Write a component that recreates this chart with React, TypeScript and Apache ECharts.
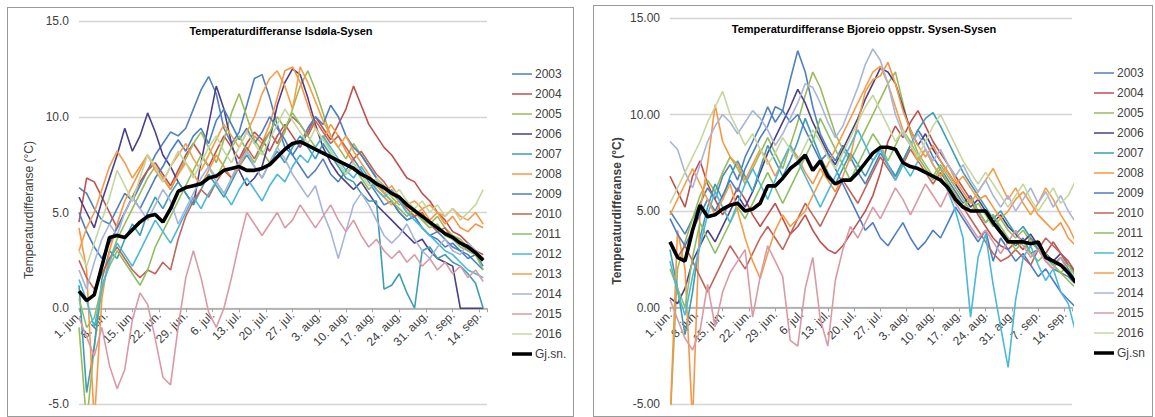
import React, { useEffect, useRef } from "react";
import * as echarts from "echarts";

// ---- axis / labels ----
const tickLabels = ["1. jun.", "8. jun.", "15. jun.", "22. jun.", "29. jun.", "6. jul.", "13. jul.", "20. jul.", "27. jul.", "3. aug.", "10. aug.", "17. aug.", "24. aug.", "31. aug.", "7. sep.", "14. sep."];
const years = ["2003", "2004", "2005", "2006", "2007", "2008", "2009", "2010", "2011", "2012", "2013", "2014", "2015", "2016"];
const yearColors = ["#4F81BD", "#C0504D", "#9BBB59", "#4E3F86", "#3D9DB3", "#F79646", "#4A7EC8", "#C0665A", "#8CC063", "#4BB8DA", "#F59D4B", "#A9B4D9", "#D99AA8", "#C4D79F"];
const dayStep = 2; // one value every 2nd day from 1. jun.
const yMin = -5;
const yMax = 15;

// ---- Isdøla-Sysen (left) ----
const isd2003 = [6.3,6.0,5.2,4.6,4.4,5.2,6.0,5.6,6.4,7.2,8.0,8.6,9.2,9.0,9.4,10.4,11.4,12.1,11.2,9.4,8.6,9.2,10.6,12.0,12.2,11.0,9.6,8.4,8.0,7.4,6.8,7.2,7.8,7.0,6.6,7.2,7.8,7.2,6.6,6.0,5.4,5.6,5.0,4.6,4.8,4.2,3.8,4.0,3.6,3.2,3.0,2.8,2.4,2.0];
const isd2004 = [4.5,6.8,6.6,5.8,5.0,4.2,5.0,5.8,6.6,7.2,7.6,7.0,6.4,7.2,8.0,8.6,8.0,7.4,8.2,9.0,8.4,7.8,8.6,9.2,8.8,8.2,9.0,9.6,9.0,8.4,9.2,10.0,9.4,8.8,9.6,10.4,11.6,10.6,9.6,9.0,8.4,8.0,7.4,6.8,6.6,6.0,5.6,5.0,4.6,4.0,3.8,3.4,3.0,2.8];
const isd2005 = [-1.0,-6.0,-2.0,1.0,2.5,3.6,4.4,5.2,6.0,6.8,7.4,6.8,6.2,7.0,7.8,8.6,9.2,8.4,7.6,8.8,10.2,11.2,10.0,8.8,8.2,7.6,8.4,9.2,10.4,11.6,12.4,11.4,10.2,9.0,8.4,7.8,8.6,8.0,7.4,6.8,6.4,5.8,5.4,5.6,5.0,4.6,4.4,4.8,4.2,3.8,3.6,3.2,3.0,2.6];
const isd2006 = [5.8,5.0,4.2,5.6,6.8,8.0,9.4,8.2,9.0,10.2,9.2,8.0,7.4,6.6,6.0,5.4,7.6,9.6,11.6,10.4,8.6,7.2,6.4,6.8,7.4,8.8,10.6,11.8,12.5,12.2,11.0,9.6,8.4,7.6,7.0,6.6,6.2,6.6,6.0,5.4,5.0,4.6,4.2,3.8,3.4,3.6,3.0,2.6,2.4,2.2,0,0,0,0];
const isd2007 = [1.2,-4.4,-2.0,1.5,3.0,2.6,3.6,4.4,3.8,5.0,5.8,5.2,6.0,6.6,6.0,5.4,6.2,7.0,6.4,5.8,6.6,7.4,8.0,7.4,6.8,7.6,8.2,7.6,8.4,9.0,8.4,7.8,8.6,8.0,7.4,6.8,6.6,6.0,5.6,5.6,1.0,1.2,1.8,0.8,0.0,3.0,3.2,2.6,2.8,2.4,2.2,1.8,1.3,0.0];
const isd2008 = [4.2,2.0,-6.0,0.5,3.0,4.4,5.6,6.4,7.2,8.0,7.4,6.8,6.2,7.0,7.6,7.0,6.4,7.2,8.0,7.4,6.8,7.4,8.2,9.0,8.6,9.6,11.0,12.4,12.6,11.8,10.6,9.4,8.8,9.6,9.0,8.2,7.6,7.0,6.8,6.2,5.8,5.4,5.6,5.0,4.8,5.2,4.6,5.0,4.4,4.8,4.2,4.0,4.4,4.2];
const isd2009 = [5.0,4.0,3.2,2.6,3.4,4.2,5.0,5.8,5.2,6.0,6.8,7.4,8.2,8.8,8.2,9.0,9.4,8.6,9.8,10.4,9.6,8.8,9.4,8.6,9.2,10.0,9.4,8.8,8.0,8.6,9.4,10.0,9.6,10.6,10.0,9.0,8.4,8.0,7.4,6.8,6.0,5.6,5.0,4.6,4.8,4.2,3.8,3.6,3.2,3.4,3.0,2.6,2.8,2.2];
const isd2010 = [2.5,1.6,1.0,1.8,2.6,3.2,2.6,2.0,1.6,2.0,1.8,2.4,2.0,3.6,4.8,5.6,6.2,5.8,6.6,7.2,6.8,7.6,8.4,7.8,8.6,9.2,8.6,9.4,10.0,9.6,9.0,9.8,9.2,8.6,9.0,8.4,7.8,8.2,7.6,7.0,6.6,6.0,5.6,5.2,4.8,5.0,4.4,4.0,4.2,3.6,3.4,3.0,2.8,2.6];
const isd2011 = [0.5,-1.0,-0.5,1.2,2.2,3.0,2.4,1.8,1.2,2.0,3.2,4.0,4.8,5.6,6.4,7.2,8.0,7.4,6.8,7.6,8.4,9.0,8.2,7.6,8.4,9.2,10.0,9.4,10.2,9.6,9.0,8.4,9.0,8.2,7.6,7.0,7.4,6.8,6.2,6.6,6.0,5.6,5.2,4.8,5.2,4.6,4.2,4.4,3.8,3.6,3.2,3.0,2.8,2.0];
const isd2012 = [1.5,0.4,-1.0,1.0,2.4,3.4,2.8,2.2,3.0,3.8,4.6,4.0,3.4,4.2,5.0,5.8,5.2,6.0,6.6,6.0,5.4,6.2,6.8,6.2,5.6,6.4,7.0,6.6,7.4,8.0,7.6,8.4,9.0,8.4,7.8,7.2,6.8,7.4,6.8,6.2,5.8,6.2,5.6,5.0,4.6,4.2,3.8,3.4,3.0,2.8,2.4,2.0,1.8,1.6];
const isd2013 = [3.0,4.2,5.0,6.2,7.4,8.2,7.6,6.8,7.4,8.0,7.2,6.6,7.4,8.0,8.6,7.8,7.2,8.0,8.8,9.6,9.0,8.4,9.2,10.0,11.2,12.0,12.4,11.6,10.4,12.6,11.8,10.8,9.8,9.0,8.4,9.0,8.2,7.6,7.0,6.4,6.0,6.4,5.8,5.4,5.6,5.2,5.4,5.0,4.8,5.2,4.8,4.6,5.0,4.4];
const isd2014 = [2.0,1.0,2.4,3.6,4.4,3.8,5.0,5.8,5.2,4.6,5.4,6.2,5.6,4.4,5.2,6.0,6.8,7.4,6.6,6.0,6.8,7.6,8.2,7.4,6.8,7.6,8.4,7.8,7.0,6.4,5.8,6.4,5.0,4.0,2.6,4.0,5.4,6.0,5.4,4.6,3.8,3.4,3.8,4.4,3.6,3.0,2.6,3.2,3.6,3.0,2.8,3.4,3.0,2.6];
const isd2015 = [-0.5,-1.5,-2.5,-1.0,-3.0,-4.2,-3.2,-0.6,0.8,0.2,-1.6,-3.6,-4.0,-1.0,1.6,3.0,1.6,-0.2,-1.0,0.0,1.6,3.4,5.0,4.4,3.8,4.4,5.0,4.2,4.6,5.4,4.8,4.2,4.8,5.4,4.6,4.0,4.6,3.8,3.2,3.6,3.0,2.6,3.0,2.4,2.8,2.2,2.6,2.0,2.4,1.8,2.2,1.6,2.0,1.4];
const isd2016 = [3.0,2.2,3.4,4.6,5.8,7.2,6.4,5.6,6.8,8.0,7.4,6.6,7.4,8.2,7.6,6.8,7.6,8.4,9.0,8.2,7.6,8.4,9.2,8.6,8.0,8.8,9.6,10.4,9.8,9.2,8.6,9.4,8.8,8.2,7.6,7.0,7.6,7.0,6.4,6.8,6.2,5.8,6.2,5.6,5.2,5.6,5.0,5.4,4.8,5.2,4.6,5.0,5.4,6.2];
const isdMean = [0.9,0.4,0.7,2.2,3.7,3.8,3.7,4.1,4.5,4.8,4.9,4.5,5.2,6.1,6.3,6.4,6.5,6.8,6.9,7.2,7.3,7.4,7.2,7.2,7.3,7.5,7.9,8.3,8.6,8.7,8.5,8.3,8.1,7.9,7.7,7.5,7.3,7.0,6.8,6.5,6.3,6.0,5.8,5.4,5.1,4.8,4.5,4.2,3.9,3.7,3.4,3.2,2.9,2.5];

// ---- Bjoreio oppstr. Sysen-Sysen (right) ----
const bjo2003 = [5.0,4.4,3.8,4.6,5.4,6.2,5.6,6.8,7.4,6.6,7.8,8.6,9.4,10.4,9.6,10.2,11.8,13.3,12.2,10.4,9.0,8.2,7.6,8.4,7.8,7.0,6.4,7.2,8.0,7.4,6.8,7.6,8.4,9.2,8.6,7.8,7.2,6.6,6.0,5.4,5.8,5.0,4.4,4.8,4.0,3.6,3.2,3.6,2.8,3.0,2.4,2.0,1.8,1.6,1.2];
const bjo2004 = [6.8,6.0,5.2,6.8,7.6,6.4,5.6,4.8,5.4,6.2,5.6,4.8,4.2,4.8,5.4,4.6,3.8,4.2,4.8,4.0,3.4,3.0,2.8,3.2,3.8,4.4,5.0,5.8,7.0,8.6,9.4,8.8,9.6,10.2,9.4,8.6,8.0,7.4,6.8,6.2,5.6,4.8,4.2,3.6,3.2,3.0,3.4,3.0,3.6,3.2,2.8,3.4,2.8,2.4,1.8];
const bjo2005 = [-6.0,2.0,3.4,4.6,5.8,6.6,6.0,7.0,7.8,7.2,6.4,7.2,8.0,8.8,8.0,7.2,8.4,9.6,11.0,12.2,11.4,10.2,9.0,8.2,7.6,8.4,9.2,10.0,10.8,11.6,12.2,10.6,9.0,8.0,7.4,6.8,7.4,6.8,6.2,5.6,5.0,5.4,4.8,4.2,4.6,4.0,3.6,4.0,3.4,3.0,2.6,2.2,1.8,1.4,1.0];
const bjo2006 = [0.5,0.2,1.0,2.4,3.2,4.0,3.4,4.2,5.0,5.8,5.2,6.0,7.0,8.0,8.8,9.6,10.4,11.3,10.6,9.6,8.8,8.0,7.4,8.2,9.0,9.8,10.8,11.6,12.4,12.2,11.6,10.4,9.2,8.4,9.0,8.2,7.6,7.0,6.4,5.8,5.2,5.6,5.0,4.4,4.8,4.2,3.8,3.4,3.8,3.2,2.8,2.4,2.8,2.2,1.8];
const bjo2007 = [3.0,1.0,-1.4,0.8,3.6,5.2,6.4,5.6,6.8,7.6,6.8,6.0,7.2,8.4,7.6,6.8,7.6,8.6,9.8,8.8,7.8,7.0,6.4,7.2,8.0,7.4,6.8,7.6,8.2,7.4,6.8,7.6,8.4,9.2,9.8,10.1,9.4,8.6,7.8,7.0,6.4,5.8,5.2,4.6,5.0,4.4,3.8,4.2,3.6,3.0,2.6,2.2,2.6,2.0,1.4];
const bjo2008 = [-6.0,4.0,2.0,-6.0,5.0,7.4,10.5,8.6,7.8,7.4,6.6,7.4,8.2,7.6,6.8,7.6,8.4,7.8,7.0,6.4,7.2,6.6,6.0,6.8,7.8,9.6,11.2,11.8,12.0,12.7,11.6,10.2,9.2,8.4,7.8,8.4,7.6,7.0,6.4,6.8,6.2,5.6,5.8,5.2,4.6,5.0,5.6,6.0,5.4,4.8,4.4,4.0,4.4,3.6,3.2];
const bjo2009 = [4.6,3.8,3.2,4.0,4.8,5.6,5.0,5.8,6.6,6.0,7.2,8.0,8.8,9.4,10.4,10.2,9.6,10.0,9.2,8.4,7.6,8.0,7.2,6.4,5.6,4.8,4.0,4.4,3.6,3.2,3.8,4.4,3.6,3.0,3.4,4.0,3.6,4.4,5.2,4.6,4.0,3.4,4.0,2.4,3.6,3.0,2.4,2.8,2.2,1.6,2.0,1.4,0.8,0.4,0.0];
const bjo2010 = [3.4,2.6,3.2,2.4,1.6,0.8,1.6,2.4,3.2,2.6,2.0,2.8,3.6,4.2,3.6,3.0,3.8,4.6,5.4,4.8,4.2,5.0,5.8,6.6,6.0,5.4,6.2,7.0,7.8,7.2,6.6,7.4,8.2,7.6,7.0,6.4,7.0,6.4,5.8,5.2,4.6,4.0,3.4,2.8,2.4,2.6,3.0,2.6,2.2,3.0,3.6,3.2,2.8,2.2,1.8];
const bjo2011 = [2.0,1.0,0.0,2.6,4.4,3.6,2.8,3.6,4.4,5.2,4.6,5.4,6.2,7.0,6.2,5.4,6.2,7.0,7.8,8.6,9.8,9.0,8.2,7.4,6.6,7.4,8.2,9.0,8.4,7.6,8.4,9.2,8.6,7.8,7.2,6.6,7.2,6.4,5.8,5.2,5.6,5.0,4.4,4.8,4.2,3.6,3.0,3.4,2.8,2.4,2.8,2.2,1.8,2.2,1.6];
const bjo2012 = [2.4,0.8,-0.4,1.6,3.2,4.8,6.0,5.2,4.4,5.4,6.4,7.2,6.4,5.6,6.6,7.6,8.4,7.6,6.8,6.0,5.2,6.0,6.8,7.6,8.4,9.2,8.4,7.6,8.2,7.4,6.6,7.4,6.8,7.6,8.2,7.4,6.8,6.0,5.0,3.6,-0.5,2.6,3.8,1.2,-1.0,-3.1,0.4,2.6,3.2,2.2,1.4,2.0,0.8,0.2,-1.3];
const bjo2013 = [4.8,5.6,6.4,7.2,6.4,5.6,4.8,5.6,6.4,5.0,3.6,2.4,1.5,2.8,4.0,4.8,4.2,4.6,5.0,5.8,6.6,7.4,8.2,9.0,9.8,10.6,11.4,12.2,12.5,11.6,10.4,9.2,8.4,7.6,8.2,7.4,6.8,7.4,6.6,6.0,5.4,6.0,6.6,7.2,6.4,5.6,6.2,5.4,4.8,5.4,6.2,5.6,4.8,4.2,3.4];
const bjo2014 = [8.6,8.2,7.0,6.2,7.4,8.6,9.4,10.0,9.6,9.0,9.6,10.2,9.8,9.2,8.4,9.0,9.8,10.6,11.6,11.4,10.6,9.6,8.8,9.4,10.4,11.4,12.6,13.4,12.8,11.6,10.0,9.0,8.4,9.0,8.2,7.6,8.2,7.4,6.8,7.4,6.6,6.0,6.6,5.8,5.2,5.8,5.0,5.6,6.2,5.4,6.0,5.2,5.8,5.0,4.4];
const bjo2015 = [0.4,-0.6,-1.6,-2.2,-1.2,1.2,-1.0,0.8,1.8,2.4,3.0,-0.5,1.6,3.2,2.4,1.6,-1.7,-2.0,1.0,2.6,-0.6,-2.0,1.4,3.0,4.2,3.6,4.4,5.2,4.6,5.4,6.2,5.6,4.8,5.6,6.4,5.8,5.2,6.0,5.4,4.8,4.2,3.6,4.0,3.4,2.8,3.4,4.0,3.2,2.6,3.0,2.4,2.0,2.6,1.8,1.2];
const bjo2016 = [5.4,6.2,7.0,7.8,8.6,9.6,10.4,11.2,10.0,9.2,8.4,9.0,8.2,7.4,8.0,8.8,8.2,7.6,8.4,9.2,8.6,7.8,7.2,8.0,8.8,9.6,10.4,11.0,10.2,9.4,8.6,9.2,8.4,7.8,8.6,9.4,10.0,9.2,8.4,7.6,7.0,6.4,7.0,6.4,5.8,5.2,5.8,6.4,5.6,5.0,5.6,6.2,5.4,5.8,6.6];
const bjoMean = [3.4,2.6,2.4,4.0,5.3,4.7,4.8,5.1,5.3,5.4,5.0,5.1,5.4,6.3,6.3,6.7,7.2,7.5,7.9,7.1,7.6,6.8,6.4,6.6,6.6,7.0,7.5,8.0,8.3,8.3,8.2,7.5,7.3,7.2,7.0,6.8,6.6,6.2,5.6,5.2,5.0,5.0,5.0,4.4,3.9,3.4,3.4,3.4,3.3,3.4,2.6,2.4,2.2,1.8,1.3];

const isdYears = [isd2003, isd2004, isd2005, isd2006, isd2007, isd2008, isd2009, isd2010, isd2011, isd2012, isd2013, isd2014, isd2015, isd2016];
const bjoYears = [bjo2003, bjo2004, bjo2005, bjo2006, bjo2007, bjo2008, bjo2009, bjo2010, bjo2011, bjo2012, bjo2013, bjo2014, bjo2015, bjo2016];

const FONT = '"Liberation Sans", Arial, sans-serif';

// legend icons: thin / thick horizontal bar, with invisible slivers fixing the 20x10 box
const thinIcon = "path://M0,0L20,0L20,0.01L0,0.01ZM0,4.3L20,4.3L20,5.7L0,5.7ZM0,9.99L20,9.99L20,10L0,10Z";
const thickIcon = "path://M0,0L20,0L20,0.01L0,0.01ZM0,3.2L20,3.2L20,6.8L0,6.8ZM0,9.99L20,9.99L20,10L0,10Z";

type PanelCfg = {
  title: string;
  titleX: number;
  titleY: number;
  yearData: number[][];
  mean: number[];
  meanName: string;
  decimals: number;
  yNameBold: boolean;
  yNameX: number;
  yNameY: number;
  grid: { left: number; top: number; width: number; height: number };
  legendLeft: number;
  legendTop: number;
};

function buildOption(c: PanelCfg) {
  const toPts = (arr: number[]) => arr.map((v, i) => [i * dayStep, v]);
  const series: any[] = c.yearData.map((arr, k) => ({
    name: years[k],
    type: "line",
    data: toPts(arr),
    symbol: "none",
    lineStyle: { width: 1.6, color: yearColors[k] },
    itemStyle: { color: yearColors[k] },
    z: 2,
  }));
  series.push({
    name: c.meanName,
    type: "line",
    data: toPts(c.mean),
    symbol: "none",
    lineStyle: { width: 3.6, color: "#000" },
    itemStyle: { color: "#000" },
    z: 5,
  });
  // shift the category axis up so that it sits on the zero line (as in the original)
  const zeroOffset = -c.grid.height * (0 - yMin) / (yMax - yMin);
  return {
    animation: false,
    textStyle: { fontFamily: FONT },
    grid: { ...c.grid, containLabel: false, outerBoundsMode: "none" },
    xAxis: {
      type: "value",
      min: 0,
      max: 107,
      interval: 7,
      offset: zeroOffset,
      axisLine: { onZero: false, lineStyle: { color: "#a6a6a6", width: 1.5 } },
      axisTick: { show: true, length: 4, lineStyle: { color: "#a6a6a6" } },
      splitLine: { show: false },
      axisLabel: {
        rotate: 45,
        margin: 5,
        fontSize: 12,
        color: "#404040",
        fontFamily: FONT,
        formatter: (v: number) => (v % 7 === 0 && tickLabels[v / 7]) ? tickLabels[v / 7] : "",
      },
    },
    yAxis: {
      type: "value",
      min: yMin,
      max: yMax,
      interval: 5,
      axisLine: { show: false, onZero: false },
      axisTick: { show: false },
      splitLine: { lineStyle: { color: "#d4d4d4", width: 1.3 } },
      axisLabel: {
        margin: 10,
        fontSize: 12,
        color: "#404040",
        fontFamily: FONT,
        formatter: (v: number) => v.toFixed(c.decimals),
      },
    },
    legend: {
      orient: "vertical",
      left: c.legendLeft,
      top: c.legendTop,
      padding: 0,
      itemWidth: 20,
      itemHeight: 10,
      itemGap: 8,
      textStyle: { fontSize: 12, color: "#404040", fontFamily: FONT, padding: [0, 0, 0, -2] },
      data: [
        ...years.map((y) => ({ name: y, icon: thinIcon })),
        { name: c.meanName, icon: thickIcon },
      ],
    },
    graphic: [
      {
        type: "text",
        x: c.titleX,
        y: c.titleY,
        style: {
          text: c.title,
          font: `bold 11px ${FONT}`,
          fill: "#000",
          textAlign: "center",
          textVerticalAlign: "middle",
          align: "center",
          verticalAlign: "middle",
        },
      },
      {
        type: "text",
        x: c.yNameX,
        y: c.yNameY,
        rotation: Math.PI / 2,
        style: {
          text: "Temperaturdifferanse (°C)",
          font: `${c.yNameBold ? "bold " : ""}12px ${FONT}`,
          fill: "#404040",
          textAlign: "center",
          textVerticalAlign: "middle",
          align: "center",
          verticalAlign: "middle",
        },
      },
    ],
    series,
  };
}

function Panel(props: { cfg: PanelCfg; box: { left: number; top: number; width: number; height: number } }) {
  const ref = useRef<HTMLDivElement>(null);
  useEffect(() => {
    const chart = echarts.init(ref.current as HTMLDivElement, null, { renderer: "svg" });
    chart.setOption(buildOption(props.cfg) as any);
    return () => chart.dispose();
  }, []);
  const { left, top, width, height } = props.box;
  return (
    <div style={{ position: "absolute", left, top, width, height, border: "1px solid #9a9a9a", background: "#fff" }}>
      <div ref={ref} style={{ position: "absolute", left: 0, top: 0, width, height }} />
    </div>
  );
}

const leftCfg: PanelCfg = {
  title: "Temperaturdifferanse Isdøla-Sysen",
  titleX: 273,
  titleY: 23,
  yearData: isdYears,
  mean: isdMean,
  meanName: "Gj.sn.",
  decimals: 1,
  yNameBold: false,
  yNameX: 21,
  yNameY: 202,
  grid: { left: 71, top: 13, width: 408, height: 383 },
  legendLeft: 504,
  legendTop: 60,
};

const rightCfg: PanelCfg = {
  title: "Temperaturdifferanse Bjoreio oppstr. Sysen-Sysen",
  titleX: 270,
  titleY: 23,
  yearData: bjoYears,
  mean: bjoMean,
  meanName: "Gj.sn",
  decimals: 2,
  yNameBold: true,
  yNameX: 23,
  yNameY: 205,
  grid: { left: 76, top: 12, width: 402, height: 386 },
  legendLeft: 500,
  legendTop: 61,
};

export default function App() {
  return (
    <div style={{ position: "fixed", left: 0, top: 0, width: 1155, height: 417, background: "#fff", overflow: "hidden" }}>
      <Panel cfg={leftCfg} box={{ left: 7, top: 7, width: 565, height: 408 }} />
      <Panel cfg={rightCfg} box={{ left: 593, top: 5, width: 558, height: 410 }} />
    </div>
  );
}
